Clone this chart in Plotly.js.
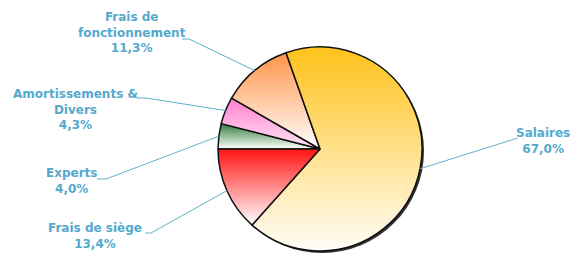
<!DOCTYPE html>
<html><head><meta charset="utf-8">
<script src="https://cdn.plot.ly/plotly-3.0.1.min.js"></script>
<style>html,body{margin:0;padding:0;background:#fff}#chart{width:577px;height:256px}</style>
</head><body><div id="chart"></div>
<script>
// Data (clockwise from 9 o'clock)
const categories = ['Experts', 'Amortissements & Divers', 'Frais de fonctionnement', 'Salaires', 'Frais de siège'];
const values = [4.0, 4.3, 11.3, 67.0, 13.4];
const valueLabels = ['4,0%', '4,3%', '11,3%', '67,0%', '13,4%'];
const labelLines = ['Experts', 'Amortissements &<br>Divers', 'Frais de<br>fonctionnement', 'Salaires', 'Frais de siège'];

// Styles / layout
const topColors = ['#2f7d3c', '#ff7fcf', '#ff9448', '#ffc21a', '#ff1414'];
const bottomColors = ['#ffffff', '#ffe6f4', '#ffffff', '#fffdf8', '#ffffff'];
const solidColors = ['#9cc3a2', '#ffb3e2', '#ffc9a3', '#ffe3a0', '#ff9090'];
const W = 577, H = 256;
const domX = [218 / W, 422 / W], domY = [5 / H, 209 / H];
const pieCx = (domX[0] + domX[1]) / 2 * W, pieCy = (1 - (domY[0] + domY[1]) / 2) * H;
const pieR = Math.min((domX[1] - domX[0]) * W, (domY[1] - domY[0]) * H) / 2;
const rotation = -90;
// text block centres and leader anchors (pixels)
const textPos = [[71, 181], [75, 109], [132, 32], [543, 141], [95, 236]];
const leaderAnchor = [[[97, 179], [106, 179]], [[137, 98], [146, 98]], [[182, 39], [189, 39]], [[518, 138], [518, 138]], [[145, 233], [151, 233]]];
const textColor = '#55a9cd', lineColor = '#62b0c9';

const px = x => x / W, py = y => 1 - y / H;
const total = values.reduce((a, b) => a + b, 0);
let cum = 0;
const shapes = [], annotations = [];
// drop shadow behind pie
shapes.push({type: 'circle', xref: 'paper', yref: 'paper', layer: 'below',
  x0: px(pieCx - pieR + 2), x1: px(pieCx + pieR + 2), y0: py(pieCy + pieR + 2), y1: py(pieCy - pieR + 2),
  fillcolor: '#333', line: {width: 0}});
values.forEach((v, i) => {
  const midFrac = (cum + v / 2) / total; cum += v;
  const ang = (rotation + midFrac * 360) * Math.PI / 180;
  const ex = pieCx + pieR * Math.sin(ang), ey = pieCy - pieR * Math.cos(ang);
  const [a, b] = leaderAnchor[i];
  shapes.push({type: 'path', xref: 'paper', yref: 'paper', layer: 'above',
    path: `M ${px(a[0])},${py(a[1])} L ${px(b[0])},${py(b[1])} L ${px(ex)},${py(ey)}`,
    line: {color: lineColor, width: 1}});
  annotations.push({xref: 'paper', yref: 'paper', x: px(textPos[i][0]), y: py(textPos[i][1]),
    xanchor: 'center', yanchor: 'middle', showarrow: false, align: 'center',
    text: labelLines[i] + '<br>' + valueLabels[i],
    font: {family: 'DejaVu Sans, sans-serif', size: 12, color: textColor, weight: 'bold'}});
});

const trace = {type: 'pie', labels: categories, values: values, sort: false, direction: 'clockwise',
  rotation: rotation, textinfo: 'none', hoverinfo: 'none',
  marker: {colors: solidColors, line: {color: '#111', width: 1.5}},
  domain: {x: domX, y: domY}};
const layout = {width: W, height: H, margin: {l: 0, r: 0, t: 0, b: 0}, showlegend: false,
  paper_bgcolor: '#fff', shapes: shapes, annotations: annotations};
Plotly.newPlot('chart', [trace], layout, {staticPlot: true}).then(gd => {
  const svg = gd.querySelector('svg.main-svg');
  let defs = svg.querySelector('defs');
  const ns = 'http://www.w3.org/2000/svg';
  topColors.forEach((c, i) => {
    const g = document.createElementNS(ns, 'linearGradient');
    g.setAttribute('id', 'slgrad' + i);
    g.setAttribute('x1', '0'); g.setAttribute('y1', '0'); g.setAttribute('x2', '0'); g.setAttribute('y2', '1');
    [[0, c], [1, bottomColors[i]]].forEach(([o, col]) => {
      const s = document.createElementNS(ns, 'stop');
      s.setAttribute('offset', o); s.setAttribute('stop-color', col);
      g.appendChild(s);
    });
    defs.appendChild(g);
  });
  gd.querySelectorAll('.slice path.surface').forEach((p, i) => {
    p.style.fill = 'url(#slgrad' + i + ')';
  });
});
</script></body></html>
